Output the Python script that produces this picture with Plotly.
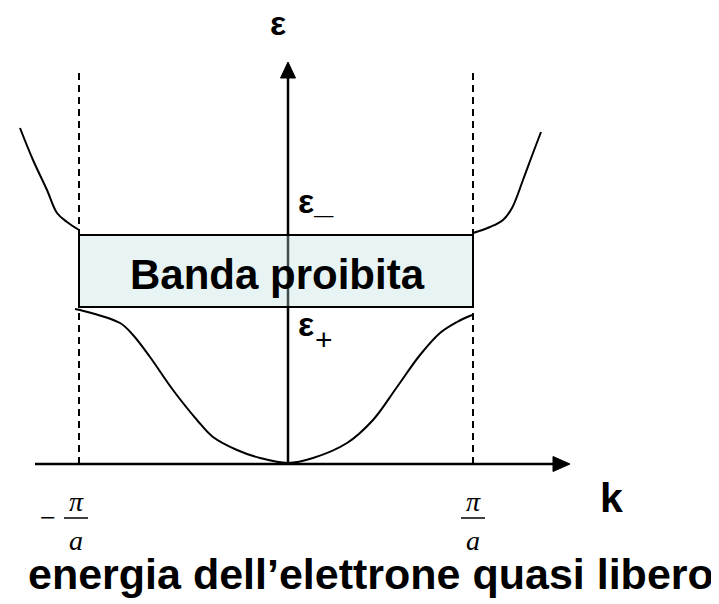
import plotly.graph_objects as go

# ---- data (diagram units: k = horizontal, E = energy, origin at axes crossing) ----
k_zone = [-209, 185]            # -pi/a and +pi/a
E_gap = [157, 229]              # eps+ (bottom of gap), eps- (top of gap)
k_upper_left = [-268, -255, -241, -231, -221, -209]
E_upper_left = [336, 304, 274, 251, 242, 234]
k_upper_right = [185, 202, 215, 224, 235, 245, 253]
E_upper_right = [231, 237, 244, 256, 284, 311, 332]
k_lower = [-213, -208, -168, -155, -138, -115, -91, -75, -51, -28, 0,
           25, 59, 85, 109, 132, 152, 169, 184]
E_lower = [155, 154, 141, 129, 107, 74, 44, 27, 14, 6, 1,
           6, 21, 44, 77, 109, 131, 142, 149]
k_axis = [-253, 282]
E_axis = [0, 402]
E_dash_top = 396

labels = {
    "eps": "ε",
    "eps_minus": "ε_",
    "eps_plus": "ε",
    "plus": "+",
    "gap": "Banda proibita",
    "k": "k",
    "title": "energia dell’elettrone quasi libero",
}

fig = go.Figure()
black = "black"

# vertical axis shaft
fig.add_trace(go.Scatter(x=[0, 0], y=[E_axis[0], E_axis[1] - 16], mode="lines",
                         line=dict(color=black, width=2.5)))
# horizontal axis shaft
fig.add_trace(go.Scatter(x=[k_axis[0], k_axis[1] - 16], y=[0, 0], mode="lines",
                         line=dict(color=black, width=2.5)))
# arrowheads
fig.add_trace(go.Scatter(x=[-7.5, 7.5, 0, -7.5],
                         y=[E_axis[1] - 16, E_axis[1] - 16, E_axis[1], E_axis[1] - 16],
                         mode="lines", fill="toself", fillcolor=black,
                         line=dict(color=black, width=1)))
fig.add_trace(go.Scatter(x=[k_axis[1] - 17, k_axis[1] - 17, k_axis[1], k_axis[1] - 17],
                         y=[-7.5, 7.5, 0, -7.5],
                         mode="lines", fill="toself", fillcolor=black,
                         line=dict(color=black, width=1)))
# dashed zone boundaries
for kz in k_zone:
    fig.add_trace(go.Scatter(x=[kz, kz], y=[0, E_dash_top], mode="lines",
                             line=dict(color=black, width=2, dash="7px,5px")))
# forbidden band rectangle
fig.add_trace(go.Scatter(x=[k_zone[0], k_zone[1], k_zone[1], k_zone[0], k_zone[0]],
                         y=[E_gap[0], E_gap[0], E_gap[1], E_gap[1], E_gap[0]],
                         mode="lines", fill="toself",
                         fillcolor="rgba(188,223,223,0.34)",
                         line=dict(color=black, width=2)))
# bands
for kx, ey in [(k_upper_left, E_upper_left), (k_upper_right, E_upper_right),
               (k_lower, E_lower)]:
    fig.add_trace(go.Scatter(x=kx, y=ey, mode="lines",
                             line=dict(color=black, width=2, shape="spline", smoothing=1)))

# fraction bars for pi/a labels
offs = [-3, 0]
for kz, off in zip(k_zone, offs):
    fig.add_trace(go.Scatter(x=[kz - 12 + off, kz + 12 + off],
                             y=[-54, -54], mode="lines",
                             line=dict(color=black, width=1.5)))

sans = "Liberation Sans, Arial, sans-serif"
serif = "Liberation Serif, Times New Roman, serif"

def txt(x, y, s, size, weight="normal", family=sans, xanchor="center", style="normal"):
    fig.add_annotation(x=x, y=y, text=s, showarrow=False, xanchor=xanchor, yanchor="middle",
                       font=dict(family=family, size=size, color=black, weight=weight, style=style))

txt(-10, 441, labels["eps"], 34, weight="bold")
txt(8, 263, labels["eps_minus"], 34, weight="bold", xanchor="left")
txt(8, 140, labels["eps_plus"], 34, weight="bold", xanchor="left")
txt(25, 125, labels["plus"], 30, xanchor="left")
txt(-11, 190, labels["gap"], 42, weight="bold")
txt(323, -34, labels["k"], 41, weight="bold")
txt(83, -110, labels["title"], 43, weight="bold")
for kz, off in zip(k_zone, offs):
    txt(kz + off, -37, "π", 28, family=serif, style="italic")
    txt(kz + off, -76, "a", 28, family=serif, style="italic")
txt(k_zone[0] - 31, -53, "−", 28, family=serif)

fig.update_layout(
    width=719, height=604, margin=dict(l=0, r=0, t=0, b=0),
    paper_bgcolor="white", plot_bgcolor="white", showlegend=False,
    xaxis=dict(range=[-280, 439], visible=False, fixedrange=True),
    yaxis=dict(range=[-148, 456], visible=False, fixedrange=True),
)
fig.write_html("out.html")
